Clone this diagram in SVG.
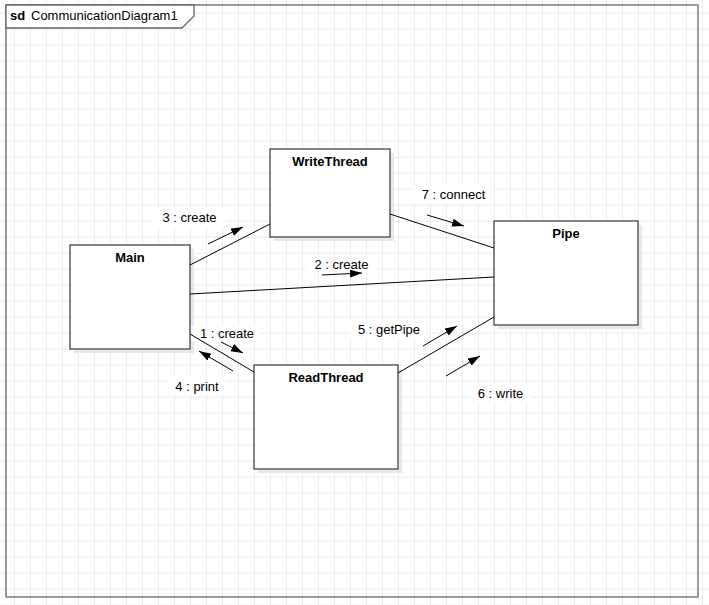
<svg xmlns="http://www.w3.org/2000/svg" width="709" height="605" viewBox="0 0 709 605">
  <defs>
    <pattern id="grid" patternUnits="userSpaceOnUse" x="14" y="12.7" width="16" height="16">
      <path d="M0 0H16M0 0V16" fill="none" stroke="#dadada" stroke-width="1"/>
    </pattern>
    <marker id="arr" markerUnits="userSpaceOnUse" markerWidth="14" markerHeight="10" refX="12" refY="4" orient="auto">
      <path d="M0 0L12 4L0 8Z" fill="#000"/>
    </marker>
  </defs>
  <style>
    .box{fill:#fff;stroke:#444;stroke-width:1.3}
    .shadow{fill:#e8e8e8}
    .name{font-family:"Liberation Sans",Arial,sans-serif;font-size:13px;font-weight:bold;fill:#000;text-anchor:middle}
    .lbl{font-family:"Liberation Sans",Arial,sans-serif;font-size:13px;fill:#000;text-anchor:middle}
    .lblbg{fill:#fff}
    .link{stroke:#000;stroke-width:1;fill:none}
    .msg{stroke:#000;stroke-width:1;fill:none;marker-end:url(#arr)}
  </style>
  <rect width="709" height="605" fill="#fff"/>
  <rect width="709" height="605" fill="url(#grid)"/>

  <g id="frame">
    <rect x="6" y="5" width="692" height="592" fill="none" stroke="#666" stroke-width="1.3"/>
    <path d="M6 5H194V16L182 28H6Z" fill="#fff" stroke="#666" stroke-width="1.3"/>
    <text x="10" y="20" font-family="Liberation Sans, Arial, sans-serif" font-size="13" font-weight="bold">sd</text>
    <text x="31" y="20" font-family="Liberation Sans, Arial, sans-serif" font-size="13">CommunicationDiagram1</text>
  </g>

  <g id="node-main">
    <rect class="shadow" x="74" y="249" width="120" height="104"/>
    <rect class="box" x="70" y="245" width="120" height="104"/>
    <text class="name" x="130" y="262">Main</text>
  </g>
  <g id="node-writethread">
    <rect class="shadow" x="274" y="153" width="120" height="88"/>
    <rect class="box" x="270" y="149" width="120" height="88"/>
    <text class="name" x="330" y="166">WriteThread</text>
  </g>
  <g id="node-pipe">
    <rect class="shadow" x="498" y="225" width="144" height="104"/>
    <rect class="box" x="494" y="221" width="144" height="104"/>
    <text class="name" x="566" y="238">Pipe</text>
  </g>
  <g id="node-readthread">
    <rect class="shadow" x="258" y="369" width="144" height="104"/>
    <rect class="box" x="254" y="365" width="144" height="104"/>
    <text class="name" x="326" y="382">ReadThread</text>
  </g>

  <g id="connectors">
    <rect class="lblbg" x="153" y="208" width="73" height="19"/>
    <rect class="lblbg" x="414" y="185" width="79" height="19"/>
    <rect class="lblbg" x="306" y="255" width="71" height="18"/>
    <rect class="lblbg" x="191" y="326" width="70" height="15"/>
    <rect class="lblbg" x="168" y="377" width="58" height="18"/>
    <rect class="lblbg" x="350" y="320" width="78" height="18"/>
    <rect class="lblbg" x="470" y="384" width="61" height="18"/>

    <line class="link" x1="190" y1="265" x2="270" y2="224"/>
    <line class="link" x1="190" y1="294" x2="494" y2="277"/>
    <line class="link" x1="390" y1="214" x2="494" y2="248"/>
    <line class="link" x1="190" y1="334" x2="254" y2="372" stroke-width="1.5"/>
    <line class="link" x1="398" y1="373" x2="494" y2="317" stroke-width="1.3"/>

    <text class="lbl" x="189.5" y="222">3 : create</text>
    <text class="lbl" x="453.5" y="199">7 : connect</text>
    <text class="lbl" x="341.5" y="269">2 : create</text>
    <text class="lbl" x="227" y="338">1 : create</text>
    <text class="lbl" x="197" y="391">4 : print</text>
    <text class="lbl" x="389" y="334">5 : getPipe</text>
    <text class="lbl" x="500.5" y="398">6 : write</text>

    <line class="msg" x1="208" y1="244" x2="243" y2="227"/>
    <line class="msg" x1="427" y1="215" x2="464" y2="226"/>
    <line class="msg" x1="322" y1="275" x2="362" y2="273"/>
    <line class="msg" x1="221" y1="342" x2="243" y2="353"/>
    <line class="msg" x1="233" y1="371" x2="199" y2="351"/>
    <line class="msg" x1="423" y1="346" x2="457" y2="326"/>
    <line class="msg" x1="446" y1="376" x2="480" y2="356"/>
  </g>
</svg>
